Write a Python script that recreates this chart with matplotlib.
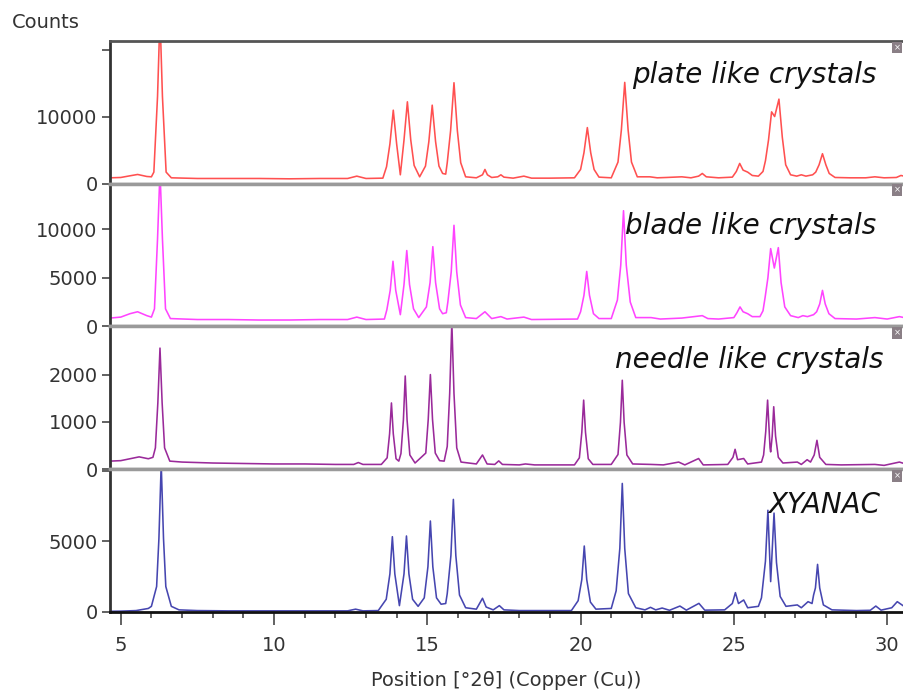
import matplotlib
matplotlib.use("Agg")
import matplotlib.pyplot as plt

# Diffraction patterns as (2theta, counts) vertices
plate_pts = [
    (4.65, 850), (5.0, 900), (5.3, 1150), (5.55, 1350), (5.85, 1050), (6.0, 1000),
    (6.08, 1700), (6.2, 13000), (6.28, 25000), (6.36, 13000), (6.48, 1700), (6.65, 850),
    (7.5, 750), (8.5, 750), (9.5, 750), (10.5, 700), (11.5, 750), (12.4, 750),
    (12.7, 1100), (13.0, 750), (13.55, 800),
    (13.67, 2500), (13.78, 5900), (13.89, 10950), (14.0, 5900), (14.12, 1300),
    (14.24, 6500), (14.35, 12200), (14.46, 6500), (14.57, 2700), (14.75, 1000),
    (14.94, 2600), (15.05, 6250), (15.16, 11700), (15.27, 6250), (15.38, 2600),
    (15.5, 1500), (15.6, 1400),
    (15.65, 3100), (15.76, 7900), (15.87, 15050), (15.98, 7900), (16.09, 3100), (16.25, 1000),
    (16.6, 850), (16.8, 1300), (16.88, 2100), (16.96, 1300), (17.1, 900), (17.3, 1000),
    (17.4, 1300), (17.5, 950), (17.8, 800), (18.15, 1100), (18.4, 800), (19.0, 800), (19.8, 850),
    (20.0, 2100), (20.11, 4600), (20.22, 8350), (20.33, 4600), (20.44, 2100), (20.6, 950),
    (21.0, 850),
    (21.22, 3200), (21.33, 8000), (21.44, 15100), (21.55, 8000), (21.66, 3200), (21.85, 1000),
    (22.26, 1000), (22.5, 850), (22.8, 900), (23.3, 1000), (23.6, 850),
    (23.85, 1100), (23.97, 1500), (24.1, 1000), (24.5, 850), (24.95, 950),
    (25.08, 1800), (25.19, 3000), (25.3, 2000), (25.45, 1700), (25.6, 1200), (25.8, 1100),
    (25.95, 1800), (26.03, 3400), (26.13, 6500), (26.23, 10700), (26.33, 10000),
    (26.47, 12600), (26.58, 6900), (26.69, 2800), (26.85, 1300), (27.05, 1100),
    (27.2, 1300), (27.35, 1100), (27.57, 1300),
    (27.67, 1700), (27.78, 2800), (27.89, 4450), (28.0, 2800), (28.11, 1500), (28.3, 900),
    (28.8, 850), (29.3, 850), (29.6, 1000), (29.9, 850), (30.3, 900), (30.45, 1200), (30.55, 1100),
]

blade_pts = [
    (4.65, 850), (5.0, 950), (5.3, 1300), (5.55, 1500), (5.85, 1100), (6.0, 950),
    (6.1, 1800), (6.2, 9000), (6.28, 16000), (6.36, 9000), (6.46, 1800), (6.62, 800),
    (7.5, 700), (8.5, 700), (9.5, 650), (10.5, 650), (11.5, 700), (12.4, 700),
    (12.7, 950), (13.0, 700), (13.6, 750),
    (13.68, 1700), (13.79, 3700), (13.88, 6700), (13.97, 3700), (14.12, 1200),
    (14.24, 4300), (14.33, 7800), (14.42, 4300), (14.55, 1800), (14.72, 900),
    (14.97, 2000), (15.09, 4500), (15.18, 8200), (15.27, 4500), (15.4, 1800),
    (15.5, 1300), (15.62, 1400),
    (15.67, 2500), (15.78, 5600), (15.87, 10400), (15.96, 5600), (16.08, 2200), (16.25, 900),
    (16.6, 800), (16.88, 1500), (17.1, 800), (17.4, 1000), (17.6, 750), (18.15, 950),
    (18.4, 700), (19.9, 750),
    (20.0, 1500), (20.11, 3200), (20.2, 5650), (20.29, 3200), (20.42, 1300), (20.6, 800),
    (21.0, 800),
    (21.2, 2700), (21.31, 6300), (21.4, 11900), (21.49, 6300), (21.62, 2500), (21.8, 900),
    (22.3, 900), (22.6, 750), (23.3, 850), (23.97, 1100), (24.15, 800), (24.5, 750),
    (25.0, 900), (25.1, 1400), (25.2, 2000), (25.3, 1500), (25.45, 1300), (25.6, 1000),
    (25.85, 1000),
    (25.95, 1600), (26.02, 3000), (26.11, 5000), (26.2, 8000), (26.32, 6000),
    (26.45, 8100), (26.54, 4500), (26.66, 2000), (26.85, 1100), (27.1, 900),
    (27.25, 1100), (27.4, 1000), (27.6, 1200),
    (27.7, 1500), (27.8, 2300), (27.89, 3700), (27.98, 2300), (28.1, 1300), (28.3, 800),
    (29.0, 750), (29.6, 900), (30.0, 750), (30.4, 1000), (30.55, 900),
]

needle_pts = [
    (4.65, 170), (5.0, 180), (5.3, 220), (5.6, 260), (5.9, 220), (6.05, 250),
    (6.13, 450), (6.21, 1400), (6.28, 2560), (6.35, 1400), (6.43, 450), (6.6, 170),
    (7.0, 150), (8.0, 130), (9.0, 120), (10.0, 110), (11.0, 110), (12.0, 100),
    (12.6, 100), (12.75, 140), (12.9, 100), (13.5, 100),
    (13.69, 240), (13.77, 750), (13.83, 1400), (13.89, 750), (13.98, 220), (14.07, 170),
    (14.14, 330), (14.22, 1040), (14.28, 1970), (14.34, 1040), (14.43, 300), (14.6, 130),
    (14.95, 340), (15.03, 1050), (15.1, 2000), (15.17, 1050), (15.26, 340), (15.4, 180),
    (15.55, 170),
    (15.65, 480), (15.73, 1600), (15.8, 3100), (15.87, 1600), (15.96, 450), (16.1, 150),
    (16.6, 110), (16.8, 300), (16.95, 110), (17.2, 100), (17.33, 175), (17.45, 100),
    (18.0, 90), (18.2, 110), (18.5, 90), (19.8, 90),
    (19.96, 240), (20.04, 780), (20.1, 1460), (20.16, 780), (20.25, 220), (20.4, 100),
    (21.0, 100),
    (21.22, 310), (21.3, 990), (21.36, 1880), (21.42, 990), (21.51, 300), (21.7, 110),
    (22.3, 100), (22.7, 90), (23.2, 150), (23.4, 90), (23.85, 225), (24.0, 90), (24.8, 100),
    (24.97, 250), (25.04, 420), (25.12, 200), (25.32, 225), (25.45, 110), (25.9, 150),
    (25.97, 300), (26.04, 800), (26.1, 1460), (26.18, 450), (26.2, 365), (26.25, 700),
    (26.3, 1320), (26.36, 700), (26.45, 250), (26.6, 130), (27.07, 150), (27.2, 100),
    (27.39, 200), (27.5, 150),
    (27.62, 300), (27.71, 610), (27.8, 250), (28.0, 100), (28.5, 90), (29.6, 100),
    (29.9, 80), (30.4, 150), (30.55, 120),
]

xyanac_pts = [
    (4.65, 50), (5.0, 60), (5.5, 100), (5.9, 250), (6.0, 400),
    (6.17, 1800), (6.245, 5200), (6.32, 10500), (6.395, 5200), (6.47, 1800), (6.65, 400),
    (6.9, 150), (7.5, 100), (8.5, 80), (9.5, 80), (10.5, 80), (11.5, 80), (12.4, 80),
    (12.66, 200), (12.9, 80), (13.4, 100),
    (13.66, 900), (13.78, 2700), (13.86, 5330), (13.94, 2700), (14.09, 450),
    (14.24, 2700), (14.32, 5380), (14.4, 2700), (14.52, 900), (14.7, 400),
    (14.9, 1000), (15.02, 3200), (15.1, 6440), (15.18, 3200), (15.3, 1000), (15.45, 550),
    (15.6, 600),
    (15.65, 1300), (15.77, 4000), (15.85, 7970), (15.93, 4000), (16.05, 1200), (16.25, 300),
    (16.6, 200), (16.8, 970), (16.92, 350), (17.15, 150), (17.35, 450), (17.5, 150),
    (18.0, 100), (19.7, 100),
    (19.92, 800), (20.04, 2300), (20.12, 4670), (20.2, 2300), (20.32, 700), (20.5, 200),
    (21.0, 250),
    (21.16, 1500), (21.28, 4500), (21.36, 9100), (21.44, 4500), (21.56, 1300), (21.8, 300),
    (22.1, 150), (22.28, 330), (22.45, 150), (22.66, 280), (22.9, 120), (23.24, 420),
    (23.45, 130), (23.86, 610), (24.05, 130), (24.7, 150),
    (24.95, 600), (25.05, 1370), (25.15, 600), (25.32, 850), (25.45, 300), (25.8, 400),
    (25.9, 1000), (26.03, 3600), (26.11, 7200), (26.2, 2150), (26.31, 7000),
    (26.39, 3500), (26.51, 1100), (26.7, 400), (27.07, 500), (27.2, 300), (27.42, 730),
    (27.55, 600),
    (27.6, 1200), (27.66, 1700), (27.73, 3370), (27.8, 1700), (27.92, 500), (28.2, 150),
    (29.0, 100), (29.45, 120), (29.63, 420), (29.8, 130), (30.15, 300), (30.33, 730),
    (30.55, 400),
]

names = ["plate like crystals", "blade like crystals", "needle like crystals", "XYANAC"]
colors = ["#ff5050", "#ff44ff", "#9a2a9a", "#4646b0"]
y_tops = [21330, 14700, 3020, 10110]
y_ticks = [[0, 10000, 20000], [0, 5000, 10000], [0, 1000, 2000], [0, 5000, 10000]]
y_ticklabels = [["0", "10000", ""], ["0", "5000", "10000"], ["0", "1000", "2000"], ["0", "5000", ""]]
label_pos = [(0.812, 0.76), (0.808, 0.70), (0.806, 0.762), (0.901, 0.748)]
x_ticks = [5, 10, 15, 20, 25, 30]

fig, axes = plt.subplots(4, 1, sharex=True, figsize=(9.04, 6.93), dpi=100)
fig.subplots_adjust(left=0.1217, right=0.999, top=0.9413, bottom=0.1169, hspace=0)

all_pts = [plate_pts, blade_pts, needle_pts, xyanac_pts]
for i, ax in enumerate(axes):
    xs, ys = zip(*all_pts[i])
    ax.plot(xs, ys, color=colors[i], lw=1.15)
    ax.set_ylim(0, y_tops[i])
    ax.set_xlim(4.65, 30.52)
    ax.set_yticks(y_ticks[i])
    ax.set_yticklabels(y_ticklabels[i])
    ax.tick_params(axis="y", direction="out", length=6, width=1.3, color="#555555",
                   labelsize=14, labelcolor="#333333", pad=3)
    ax.spines["right"].set_visible(False)
    ax.spines["left"].set_color("#333333")
    ax.spines["left"].set_linewidth(2)
    ax.spines["top"].set_color("#9a9a9a" if i > 0 else "#555555")
    ax.spines["top"].set_linewidth(2.5 if i > 0 else 2)
    ax.spines["bottom"].set_color("#9a9a9a")
    ax.spines["bottom"].set_linewidth(2.5)
    ax.text(label_pos[i][0], label_pos[i][1], names[i], transform=ax.transAxes,
            ha="center", va="center", fontsize=20, style="italic", color="#111111")
    # little close box in the corner of each pane
    ax.text(0.997, 0.985, "×", transform=ax.transAxes, ha="right", va="top",
            fontsize=6, color="white",
            bbox=dict(boxstyle="square,pad=0.15", fc="#8a7f86", ec="none"))
    if i < 3:
        ax.tick_params(axis="x", which="both", bottom=False, labelbottom=False)

ax = axes[-1]
ax.spines["bottom"].set_color("#111111")
ax.spines["bottom"].set_linewidth(2)
ax.set_xticks(x_ticks)
ax.set_xticks(range(5, 31), minor=True)
ax.tick_params(axis="x", which="major", direction="out", length=9, width=1.3,
               color="#555555", labelsize=14, labelcolor="#333333", pad=8)
ax.tick_params(axis="x", which="minor", direction="out", length=4, width=1.3,
               color="#555555")
ax.set_xlabel("Position [°2θ] (Copper (Cu))", fontsize=14, color="#333333", labelpad=12)

fig.text(12 / 904, 1 - 22 / 693, "Counts", ha="left", va="center", fontsize=14,
         color="#333333")

fig.savefig("out.png", dpi=100)
